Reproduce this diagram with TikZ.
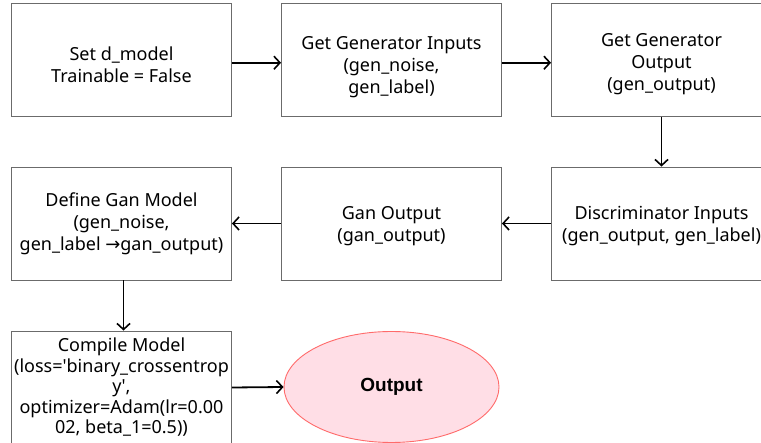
\documentclass[tikz,border=0pt]{standalone}
\usepackage{fontspec}
\setmainfont{Noto Sans}
\newfontfamily\symbolfont{DejaVu Sans}
\newfontfamily\heavyfont{Liberation Sans}
\usetikzlibrary{arrows.meta,shapes.geometric}
\definecolor{boxline}{HTML}{6B6B6B}
\definecolor{ovalfill}{HTML}{FFDEE6}
\definecolor{ovalline}{HTML}{FF6B6B}
\tikzset{
  stepbox/.style={draw=boxline, line width=0.9pt, fill=white,
    minimum width=220pt, minimum height=113pt, inner sep=0pt,
    align=center, font=\fontsize{18}{22}\selectfont},
  label shift/.style={text depth=0pt, yshift=-#1},
  endoval/.style={ellipse, draw=ovalline, line width=0.9pt, fill=ovalfill,
    minimum width=215pt, minimum height=111pt, inner sep=0pt,
    font=\heavyfont\fontsize{19}{22}\selectfont\bfseries},
  flow/.style={draw=black, line width=1.8pt,
    -{Straight Barb[length=6pt,width=13pt,line width=1.6pt]}}
}
\begin{document}
\begin{tikzpicture}[x=1pt,y=-1pt]
  \useasboundingbox (0,0) rectangle (761,443);
  \clip (0,0) rectangle (761,443);
  \fill[white] (0,0) rectangle (761,443);

  % boxes; text is placed separately so it can sit a little off centre
  \node[stepbox] (dset) at (121.5,59.75) {};
  \node[stepbox] (ginp) at (391.5,59.75) {};
  \node[stepbox] (gout) at (661.5,59.75) {};
  \node[stepbox] (gan)  at (121.5,223.5) {};
  \node[stepbox] (gano) at (391.5,223.5) {};
  \node[stepbox] (dinp) at (661.5,223.5) {};
  \node[stepbox] (comp) at (121.5,387.5) {};
  \node[endoval] (out) at (391.5,387) {Output};

  \tikzset{boxtext/.style={align=center, inner sep=0pt,
    font=\fontsize{18}{22}\selectfont}}
  \node[boxtext] (tdset) at ([yshift=-5pt]dset.center) {Set d\_model\\Trainable = False};
  \node[boxtext] (tginp) at ([yshift=-7pt]ginp.center) {Get Generator Inputs\\(gen\_noise,\\gen\_label)};
  \node[boxtext] (tgout) at ([yshift=-4pt]gout.center) {Get Generator\\Output\\(gen\_output)};
  \node[boxtext] (tgan)  at ([yshift=0pt]gan.center)
    {Define Gan Model\\(gen\_noise,\\gen\_label {\symbolfont\char"2192}gan\_output)};
  \node[boxtext] (tgano) at ([yshift=-3pt]gano.center) {Gan Output\\(gan\_output)};
  \node[boxtext] (tdinp) at ([yshift=-3pt]dinp.center) {Discriminator Inputs\\(gen\_output, gen\_label)};
  \node[boxtext, font=\fontsize{18}{20.5}\selectfont] (tcomp) at (comp.center)
    {Compile Model\\(loss=\textquotesingle binary\_crossentrop\\y\textquotesingle,\\optimizer=Adam(lr=0.00\\02, beta\_1=0.5))};

  % connectors
  \draw[flow] ([yshift=-3pt]dset.east) -- ([yshift=-3pt]ginp.west);
  \draw[flow] ([yshift=-3pt]ginp.east) -- ([yshift=-3pt]gout.west);
  \draw[flow] (gout.south) -- (dinp.north);
  \draw[flow] (dinp.west) -- (gano.east);
  \draw[flow] (gano.west) -- (gan.east);
  \draw[flow] ([xshift=2pt]gan.south) -- ([xshift=2pt]comp.north);
  \draw[flow] (comp.east) -- (out.west);
\end{tikzpicture}
\end{document}
